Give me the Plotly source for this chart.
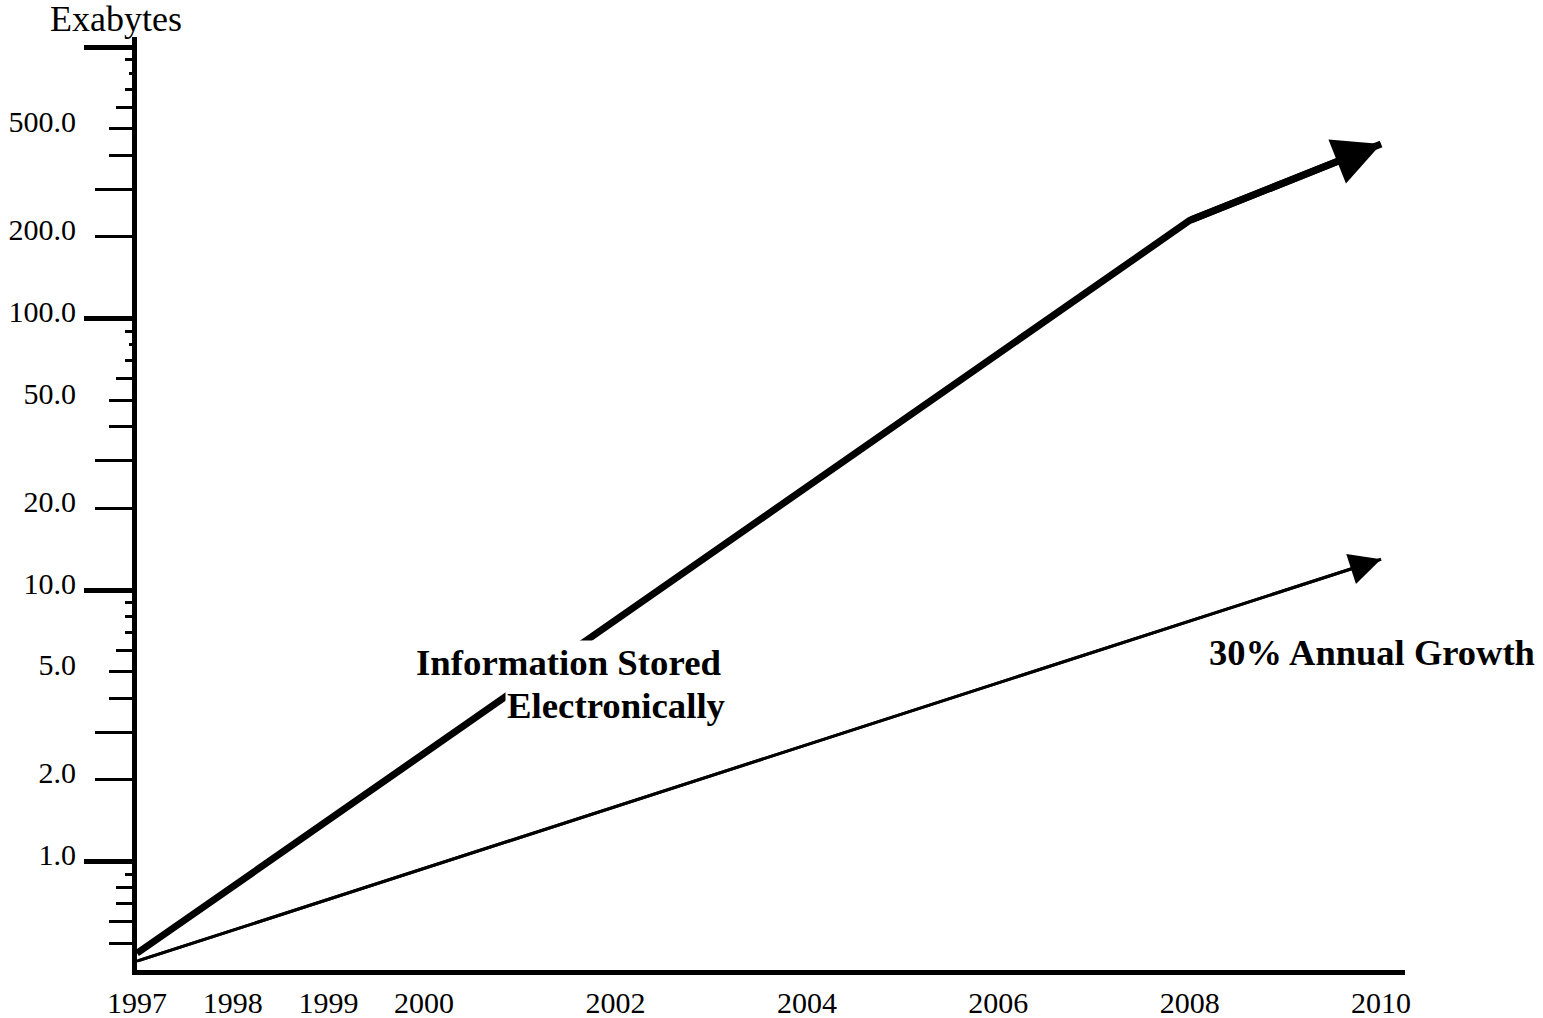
import numpy as np
import plotly.graph_objects as go

# ---- data ----
years_info = [1997, 2008, 2010]
info_stored = [0.46, 230.0, 440.0]          # Exabytes, "Information Stored Electronically"
years_growth = [1997, 2010]
growth_30 = [0.43, 13.0]                    # Exabytes, "30% Annual Growth"

x_tick_years = [1997, 1998, 1999, 2000, 2002, 2004, 2006, 2008, 2010]
y_label_vals = [1, 2, 5, 10, 20, 50, 100, 200, 500]
y_label_text = ["1.0", "2.0", "5.0", "10.0", "20.0", "50.0", "100.0", "200.0", "500.0"]

label_info = ["Information Stored", "Electronically"]
label_growth = "30% Annual Growth"
y_title = "Exabytes"

# tick mark groups on the log axis (values, length px, width px)
tick_groups = [
    ([1, 10, 100, 1000], 48, 5),
    ([2, 3, 20, 30, 200, 300], 37, 2.5),
    ([0.5, 0.6, 4, 5, 40, 50, 400, 500], 23, 2.5),
    ([0.7, 0.8, 6, 60, 600], 16, 2.5),
    ([0.9, 7, 8, 9, 70, 90, 700, 900], 7, 2.5),
    ([80, 800], 3, 2.5),
]

FONT = "Liberation Serif"
W, H = 1543, 1018
YR = [-0.399, 3.0375]
XR = [1997, 2010.25]

fig = go.Figure()
fig.add_trace(go.Scatter(x=years_info, y=info_stored, mode="lines",
                         line=dict(color="black", width=7), hoverinfo="skip"))
fig.add_trace(go.Scatter(x=years_growth, y=growth_30, mode="lines",
                         line=dict(color="black", width=3), hoverinfo="skip"))

# arrow heads at the series ends
fig.add_annotation(x=years_info[-1], y=np.log10(info_stored[-1]),
                   ax=years_info[-2], ay=np.log10(info_stored[-2]),
                   xref="x", yref="y", axref="x", ayref="y", text="",
                   showarrow=True, arrowhead=2, arrowwidth=7, arrowsize=1.35,
                   arrowcolor="black")
fig.add_annotation(x=years_growth[-1], y=np.log10(growth_30[-1]),
                   ax=years_growth[-2], ay=np.log10(growth_30[-2]),
                   xref="x", yref="y", axref="x", ayref="y", text="",
                   showarrow=True, arrowhead=2, arrowwidth=3, arrowsize=2.1,
                   arrowcolor="black")

# text labels (white boxes interrupt the thick line as in the original)
fig.add_annotation(x=2003.12, y=0.732, xref="x", yref="y", text=f"<b>{label_info[0]}</b>",
                   showarrow=False, xanchor="right", yanchor="middle",
                   bgcolor="white", font=dict(family=FONT, size=36.8, color="black"))
fig.add_annotation(x=2003.18, y=0.577, xref="x", yref="y", text=f"<b>{label_info[1]}</b>",
                   showarrow=False, xanchor="right", yanchor="middle",
                   bgcolor="white", font=dict(family=FONT, size=36.8, color="black"))
fig.add_annotation(x=2008.18, y=0.772, xref="x", yref="y", text=f"<b>{label_growth}</b>",
                   showarrow=False, xanchor="left", yanchor="middle",
                   font=dict(family=FONT, size=36.5, color="black"))
fig.add_annotation(x=0, y=1, xref="paper", yref="paper", text=y_title,
                   showarrow=False, xanchor="left", yanchor="bottom", xshift=-89, yshift=-4,
                   font=dict(family=FONT, size=36, color="black"))

layout = dict(
    width=W, height=H,
    margin=dict(l=137, r=138, t=37, b=48, autoexpand=False),
    paper_bgcolor="white", plot_bgcolor="white",
    showlegend=False,
    font=dict(family=FONT, color="black"),
    xaxis=dict(range=XR, showgrid=False, zeroline=False, showline=True,
               linewidth=5, linecolor="black", ticks="", tickmode="array",
               tickvals=x_tick_years, ticktext=[str(v) for v in x_tick_years],
               tickfont=dict(family=FONT, size=30, color="black"),
               ticklabelstandoff=2, automargin=False),
    yaxis=dict(type="log", range=YR, showgrid=False, zeroline=False, showline=True,
               linewidth=5, linecolor="black", ticks="", tickmode="array",
               tickvals=y_label_vals, ticktext=y_label_text,
               tickfont=dict(family=FONT, size=30, color="black"),
               ticklabelstandoff=50, ticklabelshift=-7, automargin=False),
)
for i, (vals, ln, wd) in enumerate(tick_groups):
    name = f"y{i + 2}"
    # empty trace so that the overlay axis is rendered
    fig.add_trace(go.Scatter(x=[], y=[], yaxis=name, mode="lines",
                             hoverinfo="skip", showlegend=False))
    layout[f"yaxis{i + 2}"] = dict(
        type="log", range=YR, overlaying="y", anchor="x", side="left",
        showgrid=False, zeroline=False, showline=True, linewidth=5, linecolor="black",
        ticks="outside", ticklen=ln, tickwidth=wd, tickcolor="black",
        tickmode="array", tickvals=vals, showticklabels=False, automargin=False)
fig.update_layout(**layout)

fig.write_html("out.html", config={"displayModeBar": False},
               post_script="document.body.style.margin='0';")
